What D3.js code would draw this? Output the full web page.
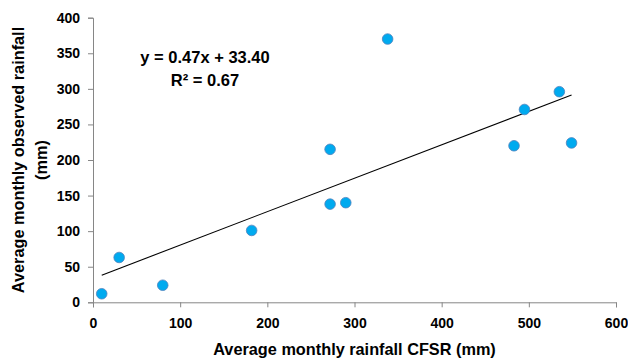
<!DOCTYPE html>
<html><head><meta charset="utf-8">
<script src="https://cdn.jsdelivr.net/npm/d3@7"></script>
<style>body{margin:0;background:#fff}text{font-family:"Liberation Sans",Arial,sans-serif;font-weight:bold;fill:#000}</style>
</head><body>
<svg id="c" width="628" height="360"></svg>
<script>
const cfsr     = [10, 30, 80, 182, 272, 290, 272, 338, 483, 495, 535, 549];
const observed = [12, 63, 24, 101, 138, 140, 215, 370, 220, 271, 296, 224];
const xTicks = [0, 100, 200, 300, 400, 500, 600];
const yTicks = [0, 50, 100, 150, 200, 250, 300, 350, 400];
const slope = 0.47, intercept = 33.40, r2 = 0.67;
const xTitle = "Average monthly rainfall CFSR (mm)";
const yTitle = ["Average monthly observed rainfall", "(mm)"];

const svg = d3.select("#c");
const x = d3.scaleLinear().domain([0, 600]).range([93, 616]);
const y = d3.scaleLinear().domain([0, 400]).range([302.3, 17.7]);

const gx = svg.append("g").attr("transform", `translate(0,${y(0)})`)
  .call(d3.axisBottom(x).tickValues(xTicks).tickSize(5).tickPadding(8).tickFormat(d3.format("d")));
const gy = svg.append("g").attr("transform", `translate(${x(0)},0)`)
  .call(d3.axisLeft(y).tickValues(yTicks).tickSize(5).tickPadding(8).tickFormat(d3.format("d")));
[gx, gy].forEach(g => {
  g.select(".domain").attr("stroke", "#868686");
  g.selectAll(".tick line").attr("stroke", "#868686");
  g.selectAll(".tick text").style("font-size", "14px").style("font-family", '"Liberation Sans",Arial,sans-serif').style("font-weight", "bold").attr("fill", "#000");
});
gx.selectAll(".tick text").attr("dy", "0.9em");

// trend line
const xmin = d3.min(cfsr), xmax = d3.max(cfsr);
svg.append("line")
  .attr("x1", x(xmin)).attr("y1", y(slope * xmin + intercept))
  .attr("x2", x(xmax)).attr("y2", y(slope * xmax + intercept))
  .attr("stroke", "#000").attr("stroke-width", 1.1);

svg.append("g").selectAll("circle").data(cfsr.map((d, i) => [d, observed[i]])).join("circle")
  .attr("cx", d => x(d[0])).attr("cy", d => y(d[1])).attr("r", 5.3)
  .attr("fill", "#00aaef").attr("stroke", "#4f81bd").attr("stroke-width", 0.8);

svg.append("text").attr("x", 205).attr("y", 63).attr("text-anchor", "middle").style("font-size", "16.5px")
  .text(`y = ${slope.toFixed(2)}x + ${intercept.toFixed(2)}`);
svg.append("text").attr("x", 205).attr("y", 86).attr("text-anchor", "middle").style("font-size", "16.5px")
  .text(`R² = ${r2.toFixed(2)}`);

svg.append("text").attr("x", 354.5).attr("y", 355).attr("text-anchor", "middle").style("font-size", "16.3px").text(xTitle);
const yt = svg.append("text").attr("transform", "translate(0,160) rotate(-90)").attr("text-anchor", "middle").style("font-size", "16.3px");
yt.append("tspan").attr("x", 0).attr("y", 24).text(yTitle[0]);
yt.append("tspan").attr("x", 0).attr("y", 47).text(yTitle[1]);
</script>
</body></html>
